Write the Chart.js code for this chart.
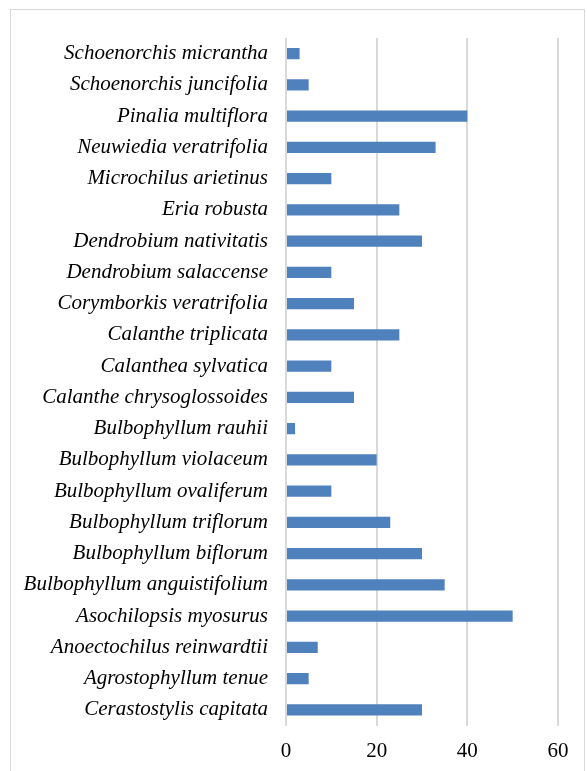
<!DOCTYPE html>
<html>
<head>
<meta charset="utf-8">
<script src="https://cdn.jsdelivr.net/npm/chart.js@4/dist/chart.umd.min.js"></script>
<style>
  html, body { margin: 0; padding: 0; background: #ffffff; }
  #wrap { position: relative; width: 587px; height: 771px; overflow: hidden; }
  #frame { position: absolute; left: 10px; top: 9px; width: 575px; height: 800px;
           border: 1px solid #d9d9d9; box-sizing: border-box; }
  canvas { position: absolute; left: 0; top: 0; }
</style>
</head>
<body>
<div id="wrap">
  <div id="frame"></div>
  <canvas id="chart" width="587" height="771"></canvas>
</div>
<script>
// Orchid species (top to bottom) and their counts
const species = [
  "Schoenorchis micrantha",
  "Schoenorchis juncifolia",
  "Pinalia multiflora",
  "Neuwiedia veratrifolia",
  "Microchilus arietinus",
  "Eria robusta",
  "Dendrobium nativitatis",
  "Dendrobium salaccense",
  "Corymborkis veratrifolia",
  "Calanthe triplicata",
  "Calanthea sylvatica",
  "Calanthe chrysoglossoides",
  "Bulbophyllum rauhii",
  "Bulbophyllum violaceum",
  "Bulbophyllum ovaliferum",
  "Bulbophyllum triflorum",
  "Bulbophyllum biflorum",
  "Bulbophyllum anguistifolium",
  "Asochilopsis myosurus",
  "Anoectochilus reinwardtii",
  "Agrostophyllum tenue",
  "Cerastostylis capitata"
];
const counts = [3, 5, 40, 33, 10, 25, 30, 10, 15, 25, 10, 15, 2, 20, 10, 23, 30, 35, 50, 7, 5, 30];
const axisTicks = [0, 20, 40, 60];

new Chart(document.getElementById("chart"), {
  type: "bar",
  data: {
    labels: species,
    datasets: [{
      data: counts,
      backgroundColor: "#4f81bd",
      borderWidth: 0,
      barPercentage: 0.36,
      categoryPercentage: 1
    }]
  },
  options: {
    indexAxis: "y",
    responsive: false,
    animation: false,
    devicePixelRatio: 1,
    layout: { padding: { left: 0, top: 38, right: 29, bottom: 0 } },
    plugins: { legend: { display: false }, tooltip: { enabled: false } },
    scales: {
      x: {
        min: axisTicks[0],
        max: axisTicks[axisTicks.length - 1],
        afterBuildTicks: (s) => { s.ticks = axisTicks.map(v => ({ value: v })); },
        afterFit: (s) => { s.height = 45.4; },
        border: { display: false },
        grid: { color: "#d9d9d9", lineWidth: 2, drawTicks: false },
        ticks: {
          color: "#000000",
          padding: 13,
          font: { family: "'Liberation Serif', 'Times New Roman', serif", size: 21 }
        }
      },
      y: {
        afterFit: (s) => { s.width = 286; },
        border: { display: false },
        grid: { display: false, drawTicks: false },
        ticks: {
          color: "#000000",
          padding: 18,
          autoSkip: false,
          font: { family: "'Liberation Serif', 'Times New Roman', serif", size: 21, style: "italic" }
        }
      }
    }
  }
});
</script>
</body>
</html>
